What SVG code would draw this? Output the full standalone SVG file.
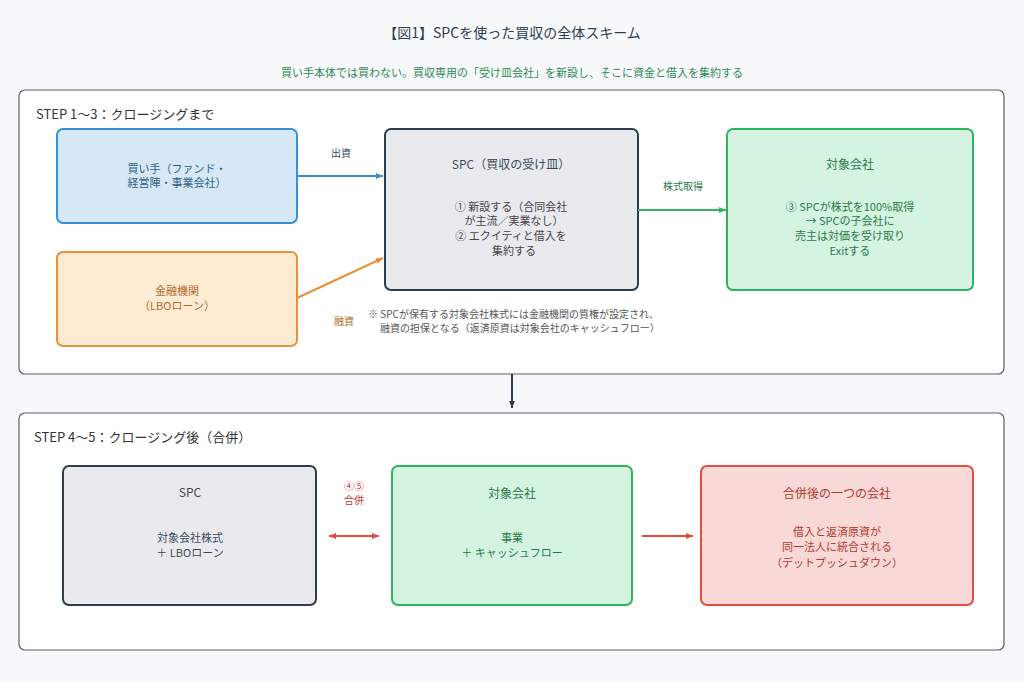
<svg xmlns="http://www.w3.org/2000/svg" width="1024" height="682" viewBox="0 0 1024 682">
<defs>
<style>
text{font-family:"Noto Sans CJK JP","Noto Sans",sans-serif;}
.t{font-size:11px;text-anchor:middle;}
.h{font-size:12px;text-anchor:middle;}
.panel{fill:#ffffff;stroke:#5a5e63;stroke-width:1.2;}
.gray{fill:#e9eaed;stroke:#2c3e50;stroke-width:2;}
.green{fill:#d4f3e0;stroke:#2eb55e;stroke-width:2;}
.blue{fill:#d6e8f6;stroke:#3a8fd0;stroke-width:2;}
.orange{fill:#fdebd3;stroke:#e8913a;stroke-width:2;}
.red{fill:#f9d9d7;stroke:#e74c3c;stroke-width:2;}
</style>
<marker id="aB" markerWidth="8" markerHeight="8" refX="7" refY="4" orient="auto" markerUnits="userSpaceOnUse"><path d="M0,1 L7,4 L0,7 z" fill="#3a8fd0"/></marker>
<marker id="aO" markerWidth="8" markerHeight="8" refX="7" refY="4" orient="auto" markerUnits="userSpaceOnUse"><path d="M0,1 L7,4 L0,7 z" fill="#e8913a"/></marker>
<marker id="aG" markerWidth="8" markerHeight="8" refX="7" refY="4" orient="auto" markerUnits="userSpaceOnUse"><path d="M0,1 L7,4 L0,7 z" fill="#2eb55e"/></marker>
<marker id="aD" markerWidth="8" markerHeight="8" refX="7" refY="4" orient="auto" markerUnits="userSpaceOnUse"><path d="M0,1 L7,4 L0,7 z" fill="#2c3e50"/></marker>
<marker id="aR" markerWidth="8" markerHeight="8" refX="7" refY="4" orient="auto-start-reverse" markerUnits="userSpaceOnUse"><path d="M0,1 L7,4 L0,7 z" fill="#e74c3c"/></marker>
</defs>
<rect width="1024" height="682" fill="#f7f8fa"/>
<text x="512" y="38" font-size="14" text-anchor="middle" fill="#2c3e50">【図1】SPCを使った買収の全体スキーム</text>
<text x="512" y="77" font-size="11" text-anchor="middle" fill="#2e8b57">買い手本体では買わない。買収専用の「受け皿会社」を新設し、そこに資金と借入を集約する</text>

<g id="panel1">
<rect class="panel" x="19" y="90" width="985" height="284" rx="6"/>
<text x="36" y="119" font-size="13" fill="#333">STEP 1〜3：クロージングまで</text>
</g>
<g id="panel2">
<rect class="panel" x="19" y="413" width="985" height="237" rx="6"/>
<text x="34" y="442" font-size="13" fill="#333">STEP 4〜5：クロージング後（合併）</text>
</g>

<g id="buyer">
<rect class="blue" x="57" y="129" width="240" height="94" rx="6"/>
<text class="t" x="177" y="173" fill="#2f5f85">買い手（ファンド・</text>
<text class="t" x="177" y="187" fill="#2f5f85">経営陣・事業会社）</text>
</g>
<g id="lender">
<rect class="orange" x="57" y="252" width="240" height="94" rx="6"/>
<text class="t" x="177" y="295" fill="#b06a2a">金融機関</text>
<text class="t" x="177" y="310" fill="#b06a2a">（LBOローン）</text>
</g>
<g id="spc">
<rect class="gray" x="385" y="129" width="253" height="161" rx="6"/>
<text class="h" x="511" y="169" fill="#3b4a5a">SPC（買収の受け皿）</text>
<text class="t" x="511" y="211" fill="#444">① 新設する（合同会社</text>
<text class="t" x="514" y="225" fill="#444">が主流／実業なし）</text>
<text class="t" x="511" y="240" fill="#444">② エクイティと借入を</text>
<text class="t" x="514" y="255" fill="#444">集約する</text>
</g>
<g id="target">
<rect class="green" x="727" y="129" width="246" height="161" rx="6"/>
<text class="h" x="850" y="169" fill="#2a7a48">対象会社</text>
<text class="t" x="850" y="211" fill="#2a7a48">③ SPCが株式を100%取得</text>
<text class="t" x="850" y="225" fill="#2a7a48">→ SPCの子会社に</text>
<text class="t" x="850" y="240" fill="#2a7a48">売主は対価を受け取り</text>
<text class="t" x="850" y="255" fill="#2a7a48">Exitする</text>
</g>
<g id="note">
<text x="368" y="318" font-size="10" fill="#555">※ SPCが保有する対象会社株式には金融機関の質権が設定され、</text>
<text x="380" y="332" font-size="10" fill="#555">融資の担保となる（返済原資は対象会社のキャッシュフロー）</text>
</g>

<g id="spc2">
<rect class="gray" x="63" y="466" width="253" height="139" rx="6"/>
<text class="h" x="190" y="497" fill="#3b4a5a">SPC</text>
<text class="t" x="190" y="542" fill="#3b4a5a">対象会社株式</text>
<text class="t" x="190" y="557" fill="#3b4a5a">＋ LBOローン</text>
</g>
<g id="target2">
<rect class="green" x="392" y="466" width="240" height="139" rx="6"/>
<text class="h" x="512" y="498" fill="#2a7a48">対象会社</text>
<text class="t" x="512" y="542" fill="#2a7a48">事業</text>
<text class="t" x="512" y="557" fill="#2a7a48">＋ キャッシュフロー</text>
</g>
<g id="merged">
<rect class="red" x="701" y="466" width="272" height="139" rx="6"/>
<text class="h" x="837" y="498" fill="#b03a2e">合併後の一つの会社</text>
<text class="t" x="837" y="536" fill="#b03a2e">借入と返済原資が</text>
<text class="t" x="837" y="551" fill="#b03a2e">同一法人に統合される</text>
<text class="t" x="837" y="567" fill="#b03a2e">（デットプッシュダウン）</text>
</g>

<g id="connectors" fill="none" stroke-width="2">
<line x1="297" y1="176" x2="383" y2="176" stroke="#3a8fd0" marker-end="url(#aB)"/>
<line x1="297" y1="298" x2="383" y2="258" stroke="#e8913a" marker-end="url(#aO)"/>
<line x1="638" y1="210" x2="726" y2="210" stroke="#2eb55e" marker-end="url(#aG)"/>
<line x1="512" y1="374" x2="512" y2="408" stroke="#2c3e50" marker-end="url(#aD)"/>
<line x1="329" y1="536" x2="379" y2="536" stroke="#e74c3c" marker-start="url(#aR)" marker-end="url(#aR)"/>
<line x1="642" y1="536" x2="693" y2="536" stroke="#e74c3c" marker-end="url(#aR)"/>
<text x="341" y="157" font-size="10" text-anchor="middle" fill="#3b4a5a" stroke="none">出資</text>
<text x="344" y="325" font-size="10" text-anchor="middle" fill="#b06a2a" stroke="none">融資</text>
<text x="683" y="190" font-size="10" text-anchor="middle" fill="#2a7a48" stroke="none">株式取得</text>
<text x="354" y="490" font-size="10" text-anchor="middle" fill="#c0392b" stroke="none">④⑤</text>
<text x="354" y="504" font-size="10" text-anchor="middle" fill="#c0392b" stroke="none">合併</text>
</g>
</svg>
